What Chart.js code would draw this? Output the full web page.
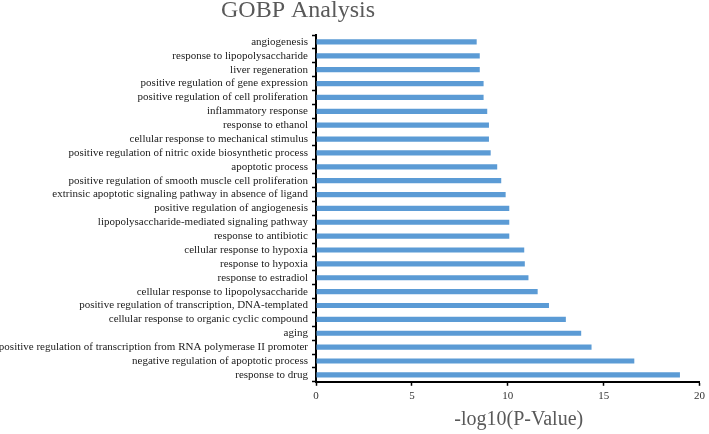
<!DOCTYPE html>
<html lang="en">
<head>
  <meta charset="UTF-8" />
  <title>GOBP Analysis</title>
  <style>
    html, body { margin: 0; padding: 0; background: #fff; }
    #wrap { position: relative; width: 709px; height: 434px; }
  </style>
</head>
<body>
  <div id="wrap"><canvas id="chart"></canvas></div>

  <script src="https://cdn.jsdelivr.net/npm/chart.js"></script>
  <script>
    // GO biological process terms, top to bottom
    const terms = [
      'angiogenesis',
      'response to lipopolysaccharide',
      'liver regeneration',
      'positive regulation of gene expression',
      'positive regulation of cell proliferation',
      'inflammatory response',
      'response to ethanol',
      'cellular response to mechanical stimulus',
      'positive regulation of nitric oxide biosynthetic process',
      'apoptotic process',
      'positive regulation of smooth muscle cell proliferation',
      'extrinsic apoptotic signaling pathway in absence of ligand',
      'positive regulation of angiogenesis',
      'lipopolysaccharide-mediated signaling pathway',
      'response to antibiotic',
      'cellular response to hypoxia',
      'response to hypoxia',
      'response to estradiol',
      'cellular response to lipopolysaccharide',
      'positive regulation of transcription, DNA-templated',
      'cellular response to organic cyclic compound',
      'aging',
      'positive regulation of transcription from RNA polymerase II promoter',
      'negative regulation of apoptotic process',
      'response to drug'
    ];

    // -log10(P-Value)
    const logP = [
      8.38, 8.54, 8.54, 8.74, 8.74, 8.93, 9.02, 9.02, 9.11, 9.45,
      9.66, 9.89, 10.08, 10.08, 10.08, 10.86, 10.89, 11.08, 11.56, 12.15,
      13.03, 13.83, 14.37, 16.6, 18.98
    ];

    const xTicks = [0, 5, 10, 15, 20];

    const serif = '"Liberation Serif", "Times New Roman", serif';

    // both titles sit off-centre in the original, so draw them here
    const titlePlugin = {
      id: 'gobpTitles',
      afterDraw(chart) {
        const ctx = chart.ctx;
        const area = chart.chartArea;
        ctx.save();
        ctx.fillStyle = '#595959';
        ctx.textAlign = 'center';
        ctx.textBaseline = 'middle';
        ctx.font = '24px ' + serif;
        ctx.fillText('GOBP Analysis', 298, 11);
        ctx.font = '20px ' + serif;
        ctx.fillText('-log10(P-Value)', (area.left + area.right) / 2 + 11, 420);
        ctx.restore();
      }
    };

    new Chart(document.getElementById('chart'), {
      type: 'bar',
      data: {
        labels: terms,
        datasets: [{
          data: logP,
          backgroundColor: '#5B9BD5',
          borderWidth: 0,
          barPercentage: 0.75,
          categoryPercentage: 0.5
        }]
      },
      options: {
        indexAxis: 'y',
        responsive: true,
        maintainAspectRatio: false,
        animation: false,
        layout: { padding: { top: 35, left: 0, right: 1, bottom: 27 } },
        plugins: {
          legend: { display: false },
          tooltip: { enabled: false }
        },
        scales: {
          x: {
            min: 0,
            max: 20,
            afterBuildTicks: (s) => { s.ticks = xTicks.map(v => ({ value: v })); },
            grid: {
              drawOnChartArea: false,
              tickLength: 4,
              tickColor: '#000',
              tickWidth: 1.5
            },
            border: { color: '#000', width: 2 },
            ticks: {
              color: '#333',
              font: { family: serif, size: 11 },
              padding: 4
            }
          },
          y: {
            afterFit: (s) => { s.width = 316; },
            grid: {
              offset: true,
              drawOnChartArea: false,
              tickLength: 4,
              tickColor: '#000',
              tickWidth: 1.5
            },
            border: { color: '#000', width: 2 },
            ticks: {
              color: '#1a1a1a',
              font: { family: serif, size: 11 },
              padding: 4,
              autoSkip: false
            }
          }
        }
      },
      plugins: [titlePlugin]
    });
  </script>
</body>
</html>
